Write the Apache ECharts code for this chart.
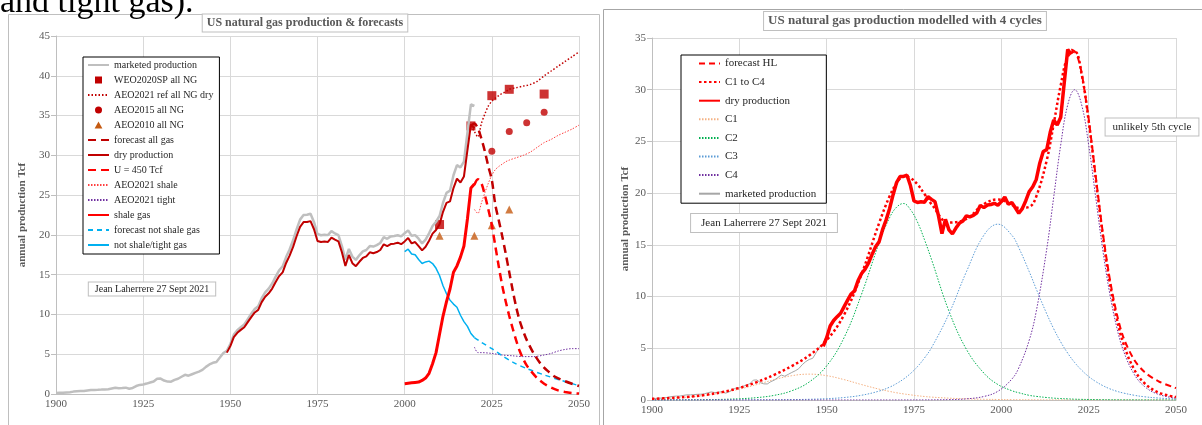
<!DOCTYPE html>
<html>
<head>
<meta charset="utf-8">
<script src="https://cdn.jsdelivr.net/npm/echarts@6/dist/echarts.min.js"></script>
<style>
  html, body { margin: 0; padding: 0; background: #fff; }
  #page { position: relative; width: 1202px; height: 425px; overflow: hidden; }
  #left { position: absolute; left: 0; top: 0; width: 601px; height: 425px; }
  #right { position: absolute; left: 601px; top: 0; width: 601px; height: 425px; }
  #cut { position: absolute; left: 0; top: -16px; font: 34px/34px 'Liberation Serif', serif; color: #000; white-space: nowrap; z-index: 5; }
</style>
</head>
<body>
<div id="page">
  <div id="left"></div>
  <div id="right"></div>
  <div id="cut">and tight gas).</div>
</div>
<script>
const serif = "'Liberation Serif', 'Times New Roman', serif";

// ---------- data ----------
// marketed production, Tcf, one value per year 1900-2020
const marketed = [
  0.13, 0.15, 0.17, 0.20, 0.23, 0.30, 0.35, 0.38, 0.38, 0.45,
  0.50, 0.50, 0.52, 0.55, 0.56, 0.60, 0.70, 0.78, 0.72, 0.75,
  0.80, 0.66, 0.76, 1.00, 1.14, 1.19, 1.31, 1.44, 1.57, 1.92,
  1.94, 1.69, 1.56, 1.55, 1.77, 1.92, 2.17, 2.41, 2.30, 2.48,
  2.66, 2.82, 3.03, 3.41, 3.71, 3.92, 4.03, 4.58, 5.15, 5.42,
  6.28, 7.46, 8.01, 8.40, 8.74, 9.41, 10.08, 10.68, 11.03, 12.05,
  12.77, 13.25, 13.88, 14.75, 15.55, 16.04, 17.21, 18.17, 19.32, 20.70,
  21.92, 22.49, 22.53, 22.65, 21.60, 20.11, 19.95, 20.03, 19.97, 20.47,
  20.18, 19.96, 18.58, 16.88, 18.23, 17.27, 16.86, 17.43, 17.92, 18.10,
  18.59, 18.53, 18.71, 18.98, 19.71, 19.51, 19.81, 19.87, 19.96, 19.81,
  20.20, 20.57, 19.88, 19.97, 19.52, 18.93, 19.41, 20.20, 21.11, 21.65,
  22.38, 24.04, 25.28, 25.56, 27.50, 28.77, 28.48, 29.21, 32.84, 36.40,
  36.20
];
// dry production, one value per year 1949-2020
const dryProd = [
  5.20,
  6.02, 7.16, 7.69, 8.06, 8.39, 9.03, 9.66, 10.25, 10.57, 11.55,
  12.23, 12.66, 13.25, 14.08, 14.82, 15.29, 16.47, 17.39, 18.49, 19.83,
  21.01, 21.61, 21.62, 21.73, 20.71, 19.24, 19.10, 19.16, 19.12, 19.66,
  19.40, 19.18, 17.82, 16.09, 17.47, 16.45, 16.06, 16.62, 17.10, 17.31,
  17.81, 17.70, 17.84, 18.10, 18.82, 18.60, 18.85, 18.90, 19.02, 18.83,
  19.18, 19.62, 18.93, 19.10, 18.59, 18.05, 18.50, 19.27, 20.16, 20.62,
  21.32, 22.90, 24.03, 24.21, 25.89, 27.07, 26.59, 27.34, 30.64, 33.90,
  33.40
];
// shale gas and not shale/tight gas, one value per year 2000-2020
const shaleGas = [1.30, 1.35, 1.40, 1.45, 1.50, 1.70, 2.00, 2.60, 3.80, 5.20,
  7.50, 9.80, 11.60, 13.20, 15.30, 16.10, 17.20, 18.60, 22.00, 25.90, 26.40];
const notShale = [17.9, 18.2, 17.6, 17.5, 16.9, 16.4, 16.6, 16.7, 16.4, 15.8,
  14.9, 13.6, 12.6, 11.8, 11.3, 10.9, 9.9, 9.1, 8.5, 7.6, 7.1];

// forecasts and outlooks, [year, Tcf]
const weo2020 = [[2010, 21.3], [2019, 33.7], [2025, 37.5], [2030, 38.3], [2040, 37.7]];
const aeo2015 = [[2025, 30.5], [2030, 33.0], [2035, 34.1], [2040, 35.4]];
const aeo2010 = [[2010, 19.9], [2020, 19.9], [2025, 21.2], [2030, 23.2]];
const aeoRefDry = [[2019, 33.7], [2020, 33.0], [2021, 32.3], [2022, 34.0], [2023, 35.2], [2024, 36.2],
  [2025, 36.8], [2026, 37.2], [2027, 37.5], [2028, 37.8], [2029, 38.0], [2030, 38.3], [2032, 38.5],
  [2034, 38.7], [2036, 38.9], [2038, 39.3], [2040, 40.0], [2042, 40.6], [2044, 41.2], [2046, 41.8],
  [2048, 42.4], [2050, 43.0]];
const aeoShale = [[2020, 23.2], [2021, 22.7], [2022, 24.0], [2023, 25.3], [2024, 26.5], [2025, 27.5],
  [2026, 28.2], [2027, 28.6], [2028, 28.9], [2029, 29.2], [2030, 29.4], [2032, 29.7], [2034, 30.0],
  [2036, 30.4], [2038, 31.0], [2040, 31.6], [2042, 32.0], [2044, 32.5], [2046, 32.9], [2048, 33.3],
  [2050, 33.8]];
const aeoTight = [[2020, 5.9], [2021, 5.2], [2022, 5.2], [2025, 5.1], [2028, 4.9], [2031, 4.8],
  [2034, 4.7], [2037, 4.7], [2040, 4.9], [2042, 5.1], [2044, 5.4], [2046, 5.6], [2048, 5.7], [2050, 5.7]];
const fcAllGas = [[2019, 33.7], [2020, 34.0], [2021, 33.4], [2022, 32.1], [2023, 30.5], [2024, 28.6],
  [2025, 26.9], [2026, 23.8], [2027, 21.8], [2028, 19.8], [2029, 17.6], [2030, 15.3], [2031, 13.0],
  [2032, 10.9], [2033, 9.2], [2034, 7.9], [2035, 6.8], [2037, 5.1], [2039, 3.8], [2041, 2.9],
  [2043, 2.2], [2046, 1.6], [2050, 1.0]];
const u450 = [[2020, 26.3], [2021, 27.0], [2022, 26.5], [2023, 25.0], [2024, 23.2], [2025, 21.2],
  [2026, 18.6], [2027, 16.0], [2028, 13.6], [2029, 11.6], [2030, 9.8], [2031, 8.2], [2032, 6.7],
  [2033, 5.4], [2034, 4.4], [2035, 3.6], [2036, 3.0], [2038, 2.0], [2040, 1.3], [2042, 0.8],
  [2044, 0.45], [2046, 0.25], [2048, 0.12], [2050, 0.05]];
const fcNotShale = [[2020, 7.1], [2022, 6.5], [2025, 5.7], [2028, 4.8], [2031, 4.0], [2035, 3.2],
  [2040, 2.4], [2045, 1.7], [2050, 1.05]];

// 4-cycle model (right chart), values at cycYears
const cycYears = [1900, 1905, 1910, 1915, 1920, 1925, 1930, 1935, 1940, 1945, 1950, 1955, 1960, 1965,
  1968, 1970, 1972, 1974, 1976, 1978, 1980, 1985, 1990, 1995, 1999, 2003, 2005, 2008, 2010,
  2013, 2015, 2017, 2019, 2021, 2023, 2025, 2027, 2029, 2031, 2033, 2035, 2038, 2041, 2045, 2050];
const cyc1 = [0.11, 0.18, 0.28, 0.45, 0.70, 1.05, 1.49, 1.97, 2.35, 2.50, 2.35, 1.97, 1.49, 1.05,
  0.83, 0.70, 0.59, 0.50, 0.41, 0.34, 0.28, 0.18, 0.11, 0.07, 0.05, 0.03, 0.025, 0.02, 0.015,
  0.01, 0.01, 0.01, 0.01, 0.005, 0.005, 0.005, 0.004, 0.004, 0.003, 0.003, 0.003, 0.002, 0.002, 0.001, 0.001];
const cyc2 = [0.004, 0.007, 0.015, 0.03, 0.06, 0.12, 0.23, 0.45, 0.89, 1.74, 3.30, 6.04, 10.24, 15.18,
  17.62, 18.64, 19.0, 18.4, 17.2, 15.5, 13.6, 8.6, 4.9, 2.6, 1.5, 0.9, 0.7, 0.45, 0.35,
  0.24, 0.18, 0.14, 0.11, 0.08, 0.06, 0.05, 0.04, 0.03, 0.02, 0.017, 0.013, 0.009, 0.006, 0.003, 0.002];
const cyc3 = [0, 0, 0.001, 0.0015, 0.003, 0.005, 0.01, 0.019, 0.036, 0.068, 0.128, 0.24, 0.46, 0.86,
  1.24, 1.59, 2.02, 2.56, 3.23, 4.06, 5.05, 8.33, 12.4, 15.93, 17.0, 15.93, 14.72, 12.4, 10.73,
  8.33, 6.88, 5.61, 4.53, 3.62, 2.88, 2.27, 1.79, 1.40, 1.09, 0.85, 0.67, 0.46, 0.31, 0.19, 0.10];
const cyc4 = [0, 0, 0, 0, 0, 0, 0, 0, 0, 0, 0, 0, 0, 0,
  0.001, 0.001, 0.002, 0.003, 0.005, 0.008, 0.012, 0.036, 0.11, 0.34, 0.84, 2.02, 3.11, 5.80, 8.58,
  14.6, 19.64, 24.66, 28.53, 30.0, 28.53, 24.66, 19.64, 14.6, 10.35, 7.08, 4.72, 2.51, 1.30, 0.54, 0.175];
const cycSum = [0.11, 0.19, 0.30, 0.48, 0.76, 1.17, 1.73, 2.44, 3.28, 4.31, 5.78, 8.25, 12.19, 17.09,
  19.69, 20.93, 21.61, 21.46, 20.85, 19.91, 18.94, 17.15, 17.52, 18.94, 19.39, 18.88, 18.56, 18.67, 19.68,
  23.18, 26.71, 30.42, 33.18, 33.71, 31.48, 26.98, 21.47, 16.03, 11.46, 7.95, 5.40, 2.98, 1.62, 0.73, 0.28];
const forecastHL = [[2020, 33.9], [2021, 33.7], [2022, 33.0], [2023, 31.6], [2024, 29.5], [2025, 27.2],
  [2027, 21.7], [2029, 16.3], [2031, 11.8], [2033, 8.4], [2035, 6.0], [2038, 3.9], [2041, 2.7],
  [2045, 1.8], [2050, 1.15]];

// ---------- helpers ----------
const byYear = (vals, start) => vals.map((v, i) => [start + i, v]);
const onCyc = vals => vals.map((v, i) => [cycYears[i], v]);

function xAxisOpt() {
  return {
    type: 'value', min: 1900, max: 2050, interval: 25,
    axisLine: { show: true, lineStyle: { color: '#bfbfbf' } },
    axisTick: { show: false },
    splitLine: { show: true, lineStyle: { color: '#d9d9d9' } },
    axisLabel: { color: '#595959', fontFamily: serif, fontSize: 11, margin: 5, formatter: v => String(v) }
  };
}
function yAxisOpt(max, gap) {
  return {
    type: 'value', min: 0, max: max, interval: 5,
    name: 'annual production Tcf', nameLocation: 'middle', nameGap: gap, nameMoveOverlap: false,
    nameTextStyle: { fontFamily: serif, fontWeight: 'bold', fontSize: 11, color: '#595959' },
    axisLine: { show: true, lineStyle: { color: '#bfbfbf' } },
    axisTick: { show: true, length: 5, lineStyle: { color: '#bfbfbf' } },
    splitLine: { show: true, lineStyle: { color: '#d9d9d9' } },
    axisLabel: { color: '#595959', fontFamily: serif, fontSize: 11, margin: 6 }
  };
}
function line(name, data, color, width, type, extra) {
  return Object.assign({
    name: name, type: 'line', data: data, symbol: 'none',
    lineStyle: { color: color, width: width, type: type || 'solid' },
    itemStyle: { color: color }
  }, extra || {});
}
function boxText(x, y, text, size, bold, pad, border) {
  return {
    type: 'text', x: x, y: y, z: 10,
    style: {
      text: text, align: 'center', verticalAlign: 'middle',
      font: (bold ? 'bold ' : '') + size + 'px ' + serif,
      fill: bold ? '#595959' : '#262626',
      backgroundColor: '#fff', borderColor: border || '#bfbfbf', borderWidth: 1, padding: pad
    }
  };
}

const squareIcon = 'path://M0,0L10,0L10,10L0,10Z';
const triIcon = 'path://M5,0L10,9L0,9Z';
const shown = { opacity: 1 };

// ---------- left chart ----------
const left = echarts.init(document.getElementById('left'));
left.setOption({
  animation: false,
  grid: { left: 56, top: 36, width: 523, height: 358 },
  xAxis: xAxisOpt(),
  yAxis: yAxisOpt(45, 28),
  legend: {
    orient: 'vertical', left: 83, top: 57, itemWidth: 21, itemHeight: 7, itemGap: 5,
    padding: [3, 6, 4, 4], borderColor: '#000', borderWidth: 1, backgroundColor: '#fff',
    selectedMode: false, itemStyle: { opacity: 0 },
    textStyle: { fontFamily: serif, fontSize: 10, color: '#262626' },
    data: [
      { name: 'marketed production' },
      { name: 'WEO2020SP all NG', icon: squareIcon, itemStyle: shown },
      { name: 'AEO2021 ref all NG dry' },
      { name: 'AEO2015 all NG', icon: 'circle', itemStyle: shown },
      { name: 'AEO2010 all NG', icon: triIcon, itemStyle: shown },
      { name: 'forecast all gas' },
      { name: 'dry production' },
      { name: 'U = 450 Tcf' },
      { name: 'AEO2021 shale' },
      { name: 'AEO2021 tight' },
      { name: 'shale gas' },
      { name: 'forecast not shale gas' },
      { name: 'not shale/tight gas' }
    ]
  },
  graphic: [
    { type: 'rect', shape: { x: 8.5, y: 14.5, width: 591, height: 430 }, style: { fill: 'none', stroke: '#bfbfbf', lineWidth: 1 }, z: -5 },
    boxText(305, 23, 'US natural gas production & forecasts', 12, true, [3, 4, 2, 4]),
    boxText(152, 289, 'Jean Laherrere 27 Sept 2021', 10, false, [2, 6, 1, 6])
  ],
  series: [
    line('marketed production', byYear(marketed, 1900), '#bfbfbf', 2.5),
    line('AEO2021 tight', aeoTight, '#7030a0', 1, [1.5, 1.5], { smooth: 0.3 }),
    line('forecast not shale gas', fcNotShale, '#00b0f0', 1.5, [5, 4], { smooth: 0.3 }),
    line('not shale/tight gas', byYear(notShale, 2000), '#00b0f0', 1.5),
    line('AEO2021 shale', aeoShale, '#ff4040', 1, [1.5, 1.5], { smooth: 0.3 }),
    line('shale gas', byYear(shaleGas, 2000), '#ff0000', 3),
    line('U = 450 Tcf', u450, '#ff0000', 2.5, [8, 5], { smooth: 0.3 }),
    line('dry production', byYear(dryProd, 1949), '#c00000', 2),
    line('forecast all gas', fcAllGas, '#c00000', 2.5, [8, 5], { smooth: 0.3 }),
    line('AEO2021 ref all NG dry', aeoRefDry, '#c00000', 1.5, [1.5, 2], { smooth: 0.3 }),
    { name: 'AEO2010 all NG', type: 'scatter', data: aeo2010, symbol: 'triangle', symbolSize: 8, itemStyle: { color: '#c55a11' } },
    { name: 'AEO2015 all NG', type: 'scatter', data: aeo2015, symbol: 'circle', symbolSize: 7, itemStyle: { color: '#c00000' } },
    { name: 'WEO2020SP all NG', type: 'scatter', data: weo2020, symbol: 'rect', symbolSize: 9, itemStyle: { color: '#c00000' } }
  ]
});

// ---------- right chart ----------
const right = echarts.init(document.getElementById('right'));
right.setOption({
  animation: false,
  grid: { left: 51, top: 38, width: 524, height: 362 },
  xAxis: xAxisOpt(),
  yAxis: yAxisOpt(35, 21),
  legend: {
    orient: 'vertical', left: 80, top: 55, itemWidth: 21, itemHeight: 10, itemGap: 7.6,
    padding: [3, 10, 4, 17], borderColor: '#000', borderWidth: 1, backgroundColor: '#fff',
    selectedMode: false, itemStyle: { opacity: 0 },
    textStyle: { fontFamily: serif, fontSize: 11, color: '#262626' },
    data: ['forecast HL', 'C1 to C4', 'dry production', 'C1', 'C2', 'C3', 'C4', 'marketed production']
  },
  graphic: [
    { type: 'rect', shape: { x: 2.5, y: 9.5, width: 700, height: 430 }, style: { fill: 'none', stroke: '#a6a6a6', lineWidth: 1 }, z: -5 },
    boxText(304, 21, 'US natural gas production modelled with 4 cycles', 13, true, [3, 4, 2, 4]),
    boxText(163, 223, 'Jean Laherrere 27 Sept 2021', 11, false, [4, 10, 3, 10]),
    boxText(551, 127, 'unlikely 5th cycle', 11, false, [3, 7, 3, 7])
  ],
  series: [
    line('C1', onCyc(cyc1), '#f4b183', 1, [1.5, 1.5], { smooth: 0.4 }),
    line('C2', onCyc(cyc2), '#00b050', 1, [1.5, 1.5], { smooth: 0.4 }),
    line('C3', onCyc(cyc3), '#5b9bd5', 1, [1.5, 1.5], { smooth: 0.4 }),
    line('C4', onCyc(cyc4), '#7030a0', 1, [1.5, 1.5], { smooth: 0.4 }),
    line('marketed production', byYear(marketed.slice(0, 51), 1900), '#a6a6a6', 1),
    line('dry production', byYear(dryProd, 1949), '#ff0000', 3.5),
    line('C1 to C4', onCyc(cycSum), '#ff0000', 2.5, [2.5, 2.5], { smooth: 0.4 }),
    line('forecast HL', forecastHL, '#ff0000', 2, [6, 4], { smooth: 0.3 })
  ]
});
</script>
</body>
</html>
